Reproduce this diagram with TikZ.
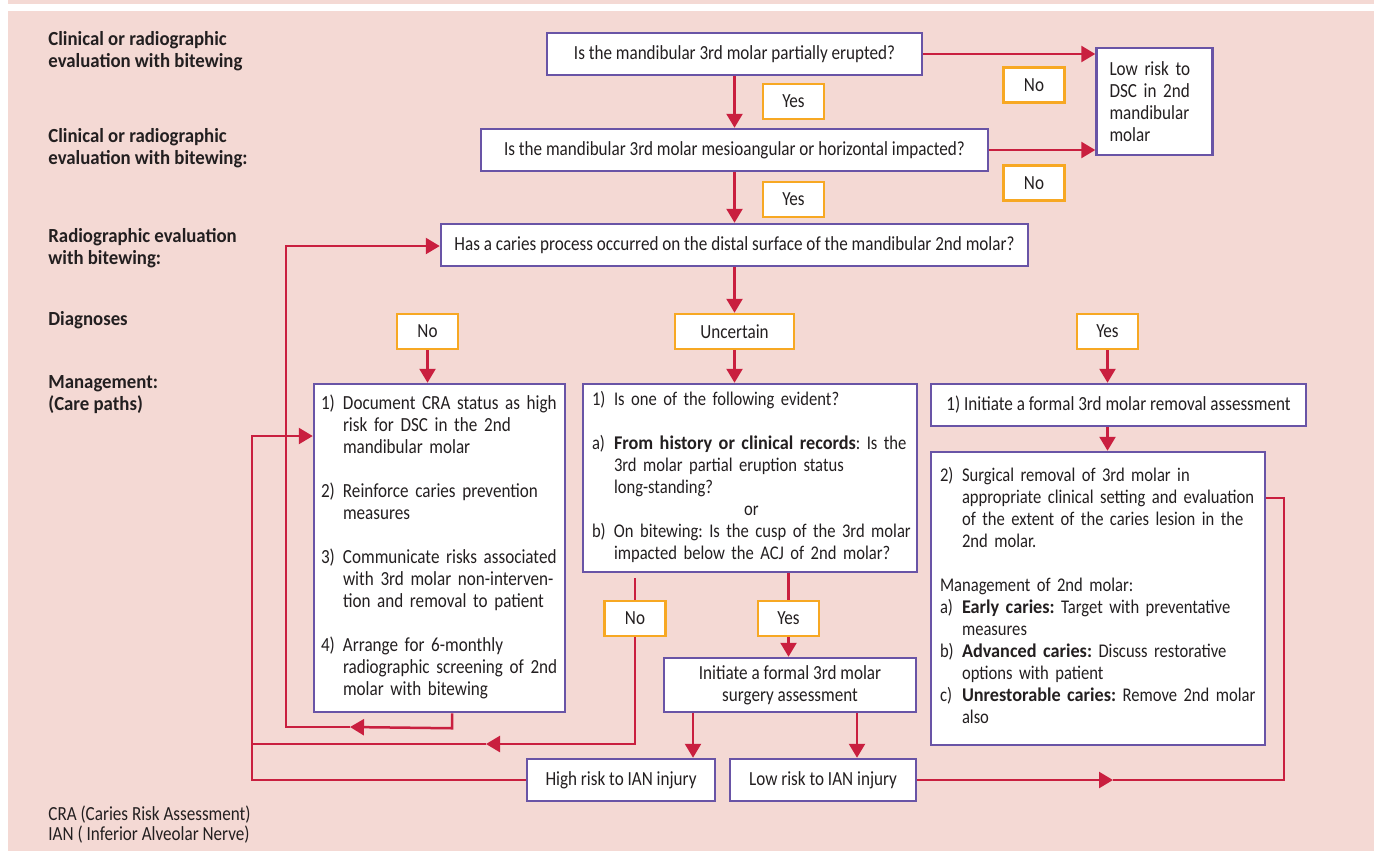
\documentclass[tikz,border=0pt]{standalone}
\usepackage{fontspec}
\setmainfont{Carlito}[UprightFeatures={FakeStretch=0.855},BoldFeatures={FakeStretch=0.94}]
\usetikzlibrary{arrows.meta}
\frenchspacing

\definecolor{bgpink}{HTML}{F4D9D4}
\definecolor{boxpurple}{HTML}{6954A6}
\definecolor{arrowred}{HTML}{C91F3F}
\definecolor{tagorange}{HTML}{F7A823}
\definecolor{inkgray}{HTML}{231F20}

\tikzstyle{box}=[draw=boxpurple,line width=1.25pt,fill=white,inner sep=0pt]
\tikzstyle{qbox}=[box,minimum height=21pt]
\tikzstyle{listbox}=[box,align=left]
\tikzstyle{tag}=[draw=tagorange,line width=1.25pt,fill=white,minimum width=30.5pt,minimum height=17.5pt,inner sep=0pt]
\tikzstyle{flow}=[draw=arrowred,line width=1.25pt,-{Triangle[length=7pt,width=8pt]}]
\tikzstyle{link}=[draw=arrowred,line width=1.25pt]
\tikzstyle{rowlabel}=[anchor=west,align=left,inner sep=0pt,font=\fontsize{10}{11}\selectfont\bfseries]

% numbered lines: number column, then text
\newenvironment{steps}{\begin{tabular}{@{}p{11pt}@{}l@{}}}{\end{tabular}}

\begin{document}
\begin{tikzpicture}[x=0.5pt,y=-0.5pt,font=\fontsize{10}{11}\selectfont,text=inkgray]
\useasboundingbox (0,0) rectangle (1374,851);
\fill[bgpink] (8,0) rectangle (1374,4);
\fill[bgpink] (8,11) rectangle (1374,851);

% row labels
\node[rowlabel] at (48,51) (lab1) {Clinical or radiographic\\evaluation with bitewing};
\node[rowlabel] at (48,148) (lab2) {Clinical or radiographic\\evaluation with bitewing:};
\node[rowlabel] at (48,248) (lab3) {Radiographic evaluation\\with bitewing:};
\node[rowlabel] at (48,320) (lab4) {Diagnoses};
\node[rowlabel] at (48,395) (lab5) {Management:\\(Care paths)};

% questions
\node[qbox,minimum width=187.5pt] at (734.5,54) (q1) {Is the mandibular 3rd molar partially erupted?};
\node[qbox,minimum width=253.5pt] at (734.5,150) (q2) {Is the mandibular 3rd molar mesioangular or horizontal impacted?};
\node[qbox,minimum width=293.5pt] at (734.5,245) (q3) {Has a caries process occurred on the distal surface of the mandibular 2nd molar?};
\node[box,minimum width=57.5pt,minimum height=53.5pt,text width=45pt,align=left,inner xsep=6.5pt] at (1154.5,101.5) (lowdsc) {Low risk to\\DSC in 2nd\\mandibular\\molar};

\node[tag] at (793.5,101.5) (yes1) {Yes};
\node[tag] at (793.5,199.5) (yes2) {Yes};
\node[tag] at (1034,85) (no1) {No};
\node[tag] at (1034,183) (no2) {No};

% diagnoses
\node[tag] at (427.5,331.5) (no3) {No};
\node[tag,minimum width=59.5pt] at (734.5,331.5) (unc) {Uncertain};
\node[tag] at (1107.5,331.5) (yes3) {Yes};

% care paths
\node[listbox,minimum width=125.5pt,minimum height=164pt,text width=118.5pt,inner xsep=3.5pt] at (439.5,548) (cra) {%
\begin{steps}
1) & Document CRA status as high\\
   & risk for DSC in the 2nd\\
   & mandibular molar\\[11pt]
2) & Reinforce caries prevention\\
   & measures\\[11pt]
3) & Communicate risks associated\\
   & with 3rd molar non-interven-\\
   & tion and removal to patient\\[11pt]
4) & Arrange for 6-monthly\\
   & radiographic screening of 2nd\\
   & molar with bitewing
\end{steps}};
\node[listbox,minimum width=167pt,minimum height=94pt,text width=158pt,inner xsep=4.5pt,font=\fontsize{9.7}{11}\selectfont] at (750,478) (mid) {%
\begin{steps}
1) & Is one of the following evident?\\[11pt]
a) & \textbf{From history or clinical records}: Is the\\
   & 3rd molar partial eruption status\\
   & long-standing?\\
\multicolumn{2}{c}{or}\\
b) & On bitewing: Is the cusp of the 3rd molar\\
   & impacted below the ACJ of 2nd molar?
\end{steps}};
\node[qbox,minimum width=187.5pt] at (1118.5,405) (rem1) {1) Initiate a formal 3rd molar removal assessment};
\node[listbox,minimum width=167pt,minimum height=146.5pt,text width=158pt,inner xsep=4.5pt,font=\fontsize{9.7}{11}\selectfont] at (1098,598.5) (rem2) {%
\begin{steps}
2) & Surgical removal of 3rd molar in\\
   & appropriate clinical setting and evaluation\\
   & of the extent of the caries lesion in the\\
   & 2nd molar.\\[11pt]
\multicolumn{2}{@{}l@{}}{Management of 2nd molar:}\\
a) & \textbf{Early caries:} Target with preventative\\
   & measures\\
b) & \textbf{Advanced caries:} Discuss restorative\\
   & options with patient\\
c) & \textbf{Unrestorable caries:} Remove 2nd molar\\
   & also
\end{steps}};

\node[tag] at (635,618.5) (no4) {No};
\node[tag] at (788.5,618.5) (yes4) {Yes};
\node[box,minimum width=126pt,minimum height=27pt,align=center] at (790,685) (ims) {Initiate a formal 3rd molar\\surgery assessment};
\node[qbox,minimum width=94pt] at (621,780) (high) {High risk to IAN injury};
\node[qbox,minimum width=93pt] at (823,780) (low) {Low risk to IAN injury};

\node[anchor=west,align=left,inner sep=0pt,font=\fontsize{10}{10}\selectfont] at (48,825) (abbr) {CRA (Caries Risk Assessment)\\IAN ( Inferior Alveolar Nerve)};

% connectors
\coordinate (nostart) at (635,578);
\coordinate (notip) at (486,744);
\coordinate (outer) at (252,436);
\coordinate (looptip) at (350,727);
\coordinate (inner) at (286,246);
\coordinate (righttip) at (1113,780);
\coordinate (rightcorner) at (1284,498);

\draw[flow] (q1) -- (q2);
\draw[flow] (q2) -- (q3);
\draw[flow] (q1.east) -- (q1.east -| lowdsc.west);
\draw[flow] (q2.east) -- (q2.east -| lowdsc.west);
\draw[flow] (q3) -- (unc);
\draw[flow] (no3) -- (no3 |- cra.north);
\draw[flow] (unc) -- (unc |- mid.north);
\draw[flow] (yes3) -- (yes3 |- rem1.north);
\draw[flow] (rem1.south -| yes3) -- (rem2.north -| yes3);
\draw[flow] ([xshift=6.25pt]cra.south) -- ++(0,15) -- (looptip);
\draw[flow] (looptip) -- (looptip -| inner) -- (inner) -- (inner -| q3.west);
\draw[link] (nostart) -- (no4);
\draw[flow] (no4) -- (no4 |- notip) -- (notip);
\draw[link] (notip) -- (notip -| outer);
\draw[flow] (high) -- (high -| outer) -- (outer) -- (outer -| cra.west);
\draw[link] (mid.south -| yes4) -- (yes4);
\draw[flow] (yes4) -- (yes4 |- ims.north);
\draw[flow] ([xshift=-48.5pt]ims.south) -- ([xshift=-48.5pt]ims.south |- high.north);
\draw[flow] ([xshift=33.5pt]ims.south) -- ([xshift=33.5pt]ims.south |- low.north);
\draw[flow] (low) -- (righttip);
\draw[link] (righttip) -- (righttip -| rightcorner) -- (rightcorner) -- (rightcorner -| rem2.east);
\end{tikzpicture}
\end{document}
